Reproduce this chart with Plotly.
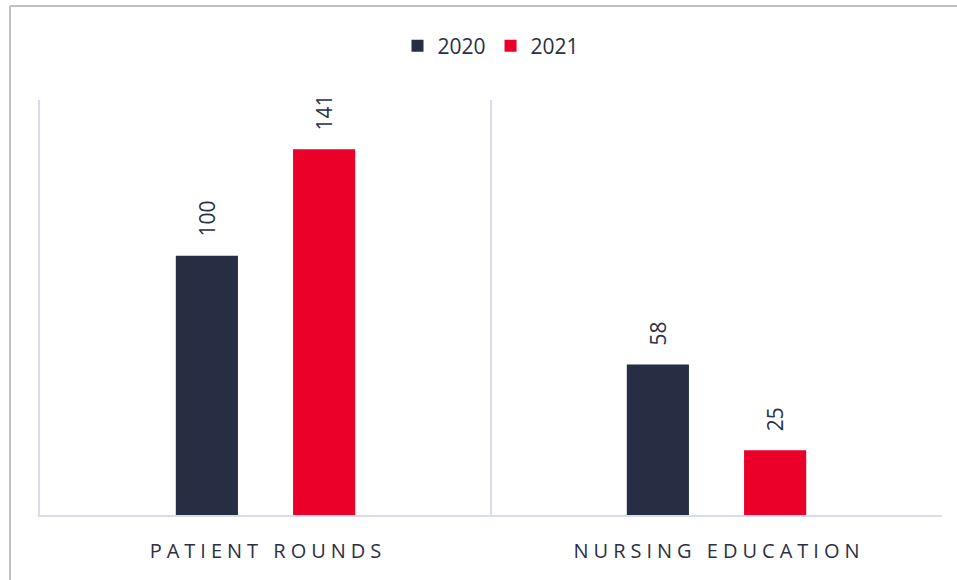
import plotly.graph_objects as go

categories = ["PATIENT ROUNDS", "NURSING EDUCATION"]
series_names = ["2020", "2021"]
values_2020 = [100, 58]
values_2021 = [141, 25]
colors = ["#272D42", "#EA0029"]

SEP = "\u2005"
def spaced(s):
    words = s.split(" ")
    return (SEP + "\u00a0" + SEP).join(SEP.join(w) for w in words)

tick_labels = [spaced(c) for c in categories]

W, H = 957, 580
L, R, T, B = 40, 15, 100, 65
TEXT = "#2B3045"
GRID = "#D9DCEA"
fig = go.Figure()
series = [values_2020, values_2021]
for name, vals, col in zip(series_names, series, colors):
    fig.add_trace(go.Bar(x=categories, y=vals, name=name, marker_color=col,
                         marker_line_width=0, showlegend=False, legendgroup=name))
    # legend entry with a larger square swatch
    fig.add_trace(go.Scatter(x=[None], y=[None], mode="markers", name=name,
                             legendgroup=name,
                             marker=dict(symbol="square", size=15, color=col)))

offsets = [-0.13, 0.13]
annotations = []
for k, vals in enumerate(series):
    for i, v in enumerate(vals):
        annotations.append(dict(x=i + offsets[k], y=v, xref="x", yref="y",
                                text=str(v), showarrow=False, textangle=-90,
                                yanchor="bottom", xanchor="center", yshift=17,
                                font=dict(family="Open Sans", size=21, color=TEXT)))

pw = W - L - R
ph = H - T - B
def px_x(p):
    return (p - L) / pw
def px_y(p):
    return (H - B - p) / ph

shapes = [
    dict(type="line", xref="paper", yref="paper", x0=px_x(10), x1=px_x(960),
         y0=px_y(6), y1=px_y(6), line=dict(color="#C0C0C0", width=2)),
    dict(type="line", xref="paper", yref="paper", x0=px_x(10), x1=px_x(10),
         y0=px_y(6), y1=px_y(585), line=dict(color="#C0C0C0", width=2)),
]

fig.update_layout(
    width=W, height=H,
    margin=dict(l=L, r=R, t=T, b=B),
    paper_bgcolor="white", plot_bgcolor="white",
    barmode="group", bargap=0.48, bargroupgap=0.47,
    font=dict(family="Open Sans", color=TEXT),
    legend=dict(orientation="h", x=0.5, xanchor="center", y=1.0 + (100 - 46) / ph,
                yanchor="middle", font=dict(size=21, color=TEXT),
                itemsizing="constant", itemwidth=30),
    annotations=annotations,
    shapes=shapes,
)
fig.update_xaxes(type="category", tickvals=categories, ticktext=tick_labels,
                 tickson="boundaries", showgrid=True, gridcolor=GRID, gridwidth=2,
                 showline=True, linecolor=GRID, linewidth=2,
                 ticks="", ticklabelstandoff=17,
                 tickfont=dict(family="Open Sans", size=20, color=TEXT),
                 range=[-0.5, 1.5], fixedrange=True)
fig.update_yaxes(range=[0, 160], showticklabels=False, ticks="", showgrid=False,
                 zeroline=False, showline=True, linecolor=GRID, linewidth=2,
                 fixedrange=True)

fig.write_html("out.html", config={"displayModeBar": False},
               post_script="document.body.style.margin='0';")
